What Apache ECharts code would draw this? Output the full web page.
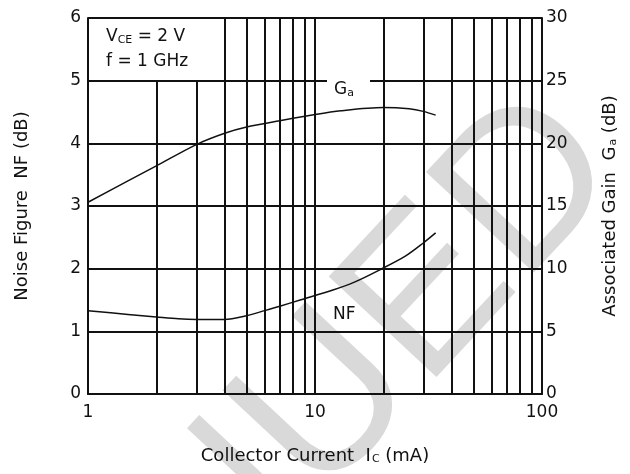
<!DOCTYPE html>
<html><head><meta charset="utf-8">
<script src="https://cdn.jsdelivr.net/npm/echarts@6/dist/echarts.min.js"></script>
<style>html,body{margin:0;padding:0;background:#fff}#c{width:630px;height:474px}</style>
</head><body><div id="c"></div>
<script>
// Associated gain Ga (right axis, dB) vs collector current (mA)
const currentGa = [1, 1.5, 2, 3, 4, 5, 7, 10, 13, 20, 26, 30, 34];
const gainGa    = [15.3, 17.0, 18.2, 19.9, 20.8, 21.3, 21.8, 22.3, 22.6, 22.85, 22.75, 22.55, 22.25];
// Noise figure NF (left axis, dB) vs collector current (mA)
const currentNF = [1, 1.5, 2, 2.5, 3, 4, 5, 6, 7, 8.6, 12, 15, 19, 25, 30, 34];
const noiseNF   = [1.33, 1.27, 1.23, 1.20, 1.19, 1.19, 1.25, 1.33, 1.40, 1.50, 1.66, 1.79, 1.97, 2.20, 2.41, 2.57];
// log-grid minor lines
const minorFull  = [4, 5, 6, 7, 8, 9, 20, 30, 40, 50, 60, 70, 80, 90];
const minorShort = [2, 3];           // stop under the condition box
const boxBottomNF = 5;
const xTickLabels = ['1', '10', '100'];
const leftTickLabels = ['0', '1', '2', '3', '4', '5', '6'];
const rightTickLabels = ['0', '5', '10', '15', '20', '25', '30'];

const FONT = 'DejaVu Sans';
const INK = '#111';
const sub = { fontFamily: FONT, fontSize: 11, color: INK, verticalAlign: 'bottom', padding: [0, 0, 0, 1] };

const gridLine = { color: INK, width: 2, type: 'solid' };
const markLines = minorFull.map(v => ({ xAxis: v }))
  .concat(minorShort.map(v => [{ coord: [v, 0] }, { coord: [v, boxBottomNF] }]));

const chart = echarts.init(document.getElementById('c'));
chart.setOption({
  animation: false,
  backgroundColor: '#fff',
  grid: { left: 88, right: 88, top: 18, bottom: 80 },
  xAxis: {
    type: 'log', logBase: 10, min: 1, max: 100,
    name: 'Collector Current  I{s|C} (mA)', nameLocation: 'middle', nameGap: 53,
    nameTextStyle: { fontFamily: FONT, fontSize: 18, color: INK, rich: { s: sub } },
    axisLine: { show: true, lineStyle: gridLine },
    axisTick: { show: false },
    splitLine: { show: true, lineStyle: gridLine },
    axisLabel: { fontFamily: FONT, fontSize: 17, color: INK, margin: 10,
      formatter: v => xTickLabels[Math.round(Math.log10(v))] }
  },
  yAxis: [{
    type: 'value', min: 0, max: 6, interval: 1, position: 'left',
    name: 'Noise Figure  NF (dB)', nameLocation: 'middle', nameGap: 57,
    nameTextStyle: { fontFamily: FONT, fontSize: 18, color: INK },
    axisLine: { show: true, lineStyle: gridLine },
    axisTick: { show: false },
    splitLine: { show: true, lineStyle: gridLine },
    axisLabel: { fontFamily: FONT, fontSize: 17, color: INK, margin: 7,
      formatter: (v) => leftTickLabels[Math.round(v)] }
  }, {
    type: 'value', min: 0, max: 30, interval: 5, position: 'right',
    name: 'Associated Gain  G{s|a} (dB)', nameLocation: 'middle', nameGap: 59,
    nameTextStyle: { fontFamily: FONT, fontSize: 18, color: INK, rich: { s: sub } },
    axisLine: { show: true, lineStyle: gridLine },
    axisTick: { show: false },
    splitLine: { show: false },
    axisLabel: { fontFamily: FONT, fontSize: 17, color: INK, margin: 4,
      formatter: (v) => rightTickLabels[Math.round(v / 5)] }
  }],
  graphic: [
    { type: 'text', z: -10, x: 584, y: 132, rotation: 47 * Math.PI / 180,
      style: { text: 'DISCONTINUED', fontFamily: 'Liberation Sans', fontSize: 214,
        fill: '#d9d9d9', align: 'right', verticalAlign: 'middle' } },
    { type: 'rect', z: 50, shape: { x: 327, y: 76, width: 43, height: 10 }, style: { fill: '#fff' } },
    { type: 'text', z: 51, x: 334, y: 90,
      style: { text: 'G{s|a}', rich: { s: { fontFamily: FONT, fontSize: 11, fill: INK, verticalAlign: 'bottom' } },
        fontFamily: FONT, fontSize: 17, fill: INK, verticalAlign: 'middle' } },
    { type: 'text', z: 51, x: 333, y: 315,
      style: { text: 'NF', fontFamily: FONT, fontSize: 17, fill: INK, verticalAlign: 'middle' } },
    { type: 'text', z: 51, x: 106, y: 37,
      style: { text: 'V{s|CE} = 2 V', rich: { s: { fontFamily: FONT, fontSize: 11, fill: INK, verticalAlign: 'bottom' } },
        fontFamily: FONT, fontSize: 17, fill: INK, verticalAlign: 'middle' } },
    { type: 'text', z: 51, x: 106, y: 62,
      style: { text: 'f = 1 GHz', fontFamily: FONT, fontSize: 17, fill: INK, verticalAlign: 'middle' } }
  ],
  series: [{
    type: 'line', data: [], silent: true,
    markLine: { silent: true, symbol: ['none', 'none'], label: { show: false },
      lineStyle: gridLine, data: markLines, animation: false }
  }, {
    name: 'Ga', type: 'line', yAxisIndex: 1, smooth: 0.3, symbol: 'none', z: 5,
    lineStyle: { color: INK, width: 1.5 },
    data: currentGa.map((x, i) => [x, gainGa[i]])
  }, {
    name: 'NF', type: 'line', yAxisIndex: 0, smooth: 0.3, symbol: 'none', z: 5,
    lineStyle: { color: INK, width: 1.5 },
    data: currentNF.map((x, i) => [x, noiseNF[i]])
  }]
});
</script></body></html>
